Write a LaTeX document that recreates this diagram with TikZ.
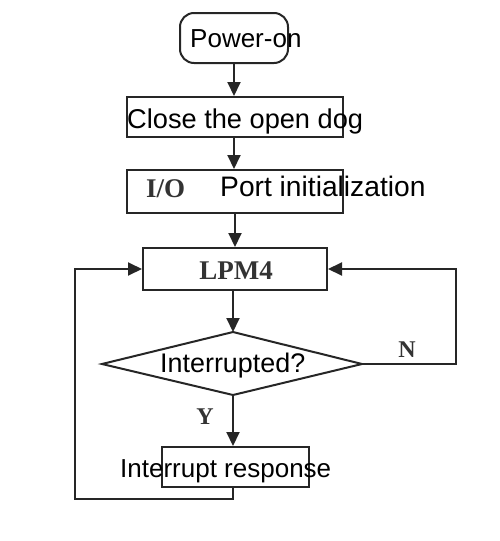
\documentclass[tikz,border=0pt]{standalone}
\usepackage{fontspec}
\setmainfont{Liberation Serif}
\newfontfamily\arialf{Liberation Sans}
\usetikzlibrary{arrows.meta}
\tikzset{
  box/.style={draw=black!85, line width=2pt, inner sep=0pt},
  conn/.style={draw=black!85, line width=2pt},
  arr/.style={conn, -{Triangle[length=14pt,width=13pt]}},
  lab/.style={font=\arialf\fontsize{26}{28}\selectfont, inner sep=0pt},
  ser/.style={font=\bfseries\fontsize{27}{29}\selectfont, inner sep=0pt, text=black!80},
}
\begin{document}
\begin{tikzpicture}[x=1pt,y=-1pt]
\useasboundingbox (0,0) rectangle (500,541);
% boxes
\node[box, rounded corners=14pt, minimum width=108pt, minimum height=50pt] (pwr) at (234,38) {};
\node[box, minimum width=216pt, minimum height=40pt] (close) at (235,117) {};
\node[box, minimum width=216pt, minimum height=43pt] (io) at (235,191.5) {};
\node[box, minimum width=184pt, minimum height=42pt] (lpm) at (235,269) {};
\coordinate (dt) at (233,332);
\coordinate (dr) at (362,364);
\coordinate (db) at (233,395);
\coordinate (dl) at (102,364);
\draw[conn] (dt) -- (dr) -- (db) -- (dl) -- cycle;
\node[box, minimum width=147pt, minimum height=40pt] (resp) at (235.5,467) {};
% texts
\node[lab, anchor=base west] (t1) at (190,47) {Power-on};
\node[lab, font=\arialf\fontsize{27.2}{29}\selectfont, anchor=base west] (t2) at (127,128) {Close the open dog};
\node[ser, anchor=base west] (t3a) at (146,197) {I/O};
\node[lab, font=\arialf\fontsize{28.2}{30}\selectfont, anchor=base west] (t3b) at (220,196) {Port initialization};
\node[ser, anchor=base] (t4) at (236,279) {LPM4};
\node[lab, font=\arialf\fontsize{26.9}{29}\selectfont, anchor=base west] (t5) at (160,372) {Interrupted?};
\node[lab, anchor=base west] (t6) at (120,477) {Interrupt response};
\node[ser, font=\bfseries\fontsize{24}{26}\selectfont, anchor=base] (ln) at (407,357) {N};
\node[ser, font=\bfseries\fontsize{24}{26}\selectfont, anchor=base] (ly) at (205,424) {Y};
% connectors
\draw[arr] (pwr.south -| 234,0) -- (close.north -| 234,0);
\draw[arr] (close.south -| 234,0) -- (io.north -| 234,0);
\draw[arr] (io.south -| 235,0) -- (lpm.north -| 235,0);
\draw[arr] (lpm.south -| 233,0) -- (dt);
\draw[arr] (db) -- (resp.north -| 233,0);
\coordinate (nr) at (456,364);
\coordinate (nt) at (456,269);
\draw[arr] (dr) -- (nr) -- (nt) -- (lpm.east);
\coordinate (lb) at (75,499);
\coordinate (lt) at (75,269);
\draw[arr] (resp.south -| 233,0) |- (lb) -- (lt) -- (lpm.west);
\end{tikzpicture}
\end{document}
